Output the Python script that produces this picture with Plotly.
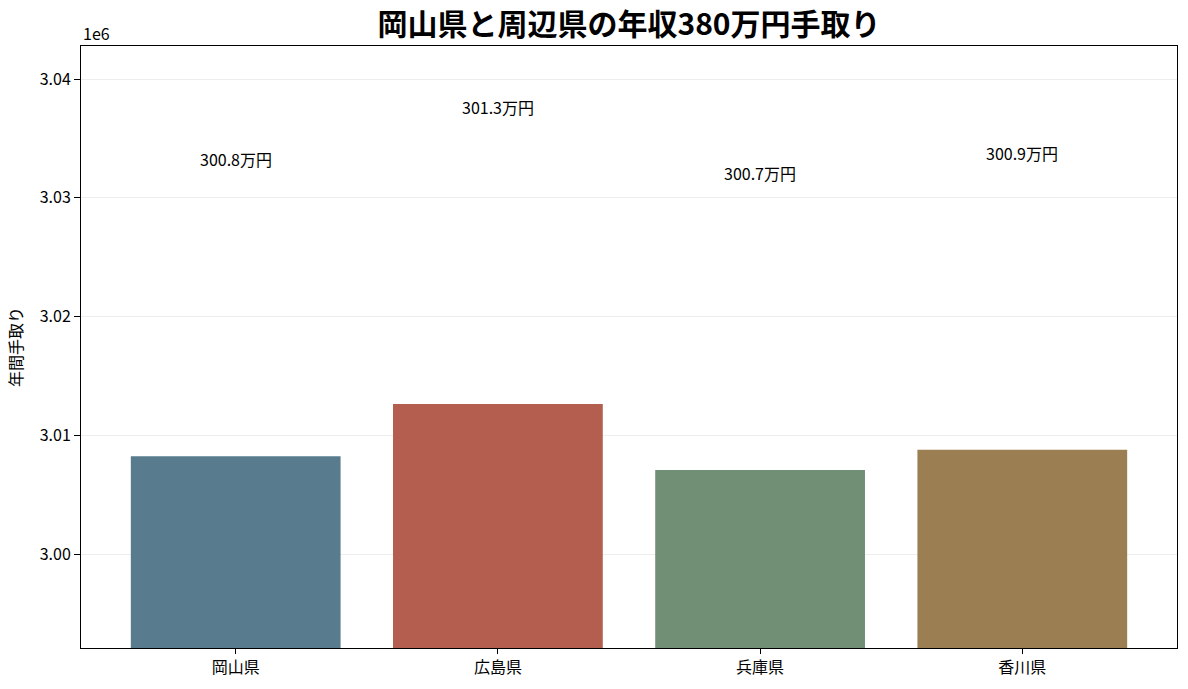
import plotly.graph_objects as go

prefectures = ["岡山県", "広島県", "兵庫県", "香川県"]
net_income = [3008250, 3012650, 3007080, 3008780]
bar_colors = ["#587c8e", "#b35e4e", "#708f74", "#9b7e52"]
y_ticks = [3000000, 3010000, 3020000, 3030000, 3040000]
y_tick_labels = ["3.00", "3.01", "3.02", "3.03", "3.04"]
label_offset = 25000

FONT = "Noto Sans CJK JP"

fig = go.Figure()
fig.add_trace(go.Bar(
    x=list(range(len(prefectures))),
    y=net_income,
    marker=dict(color=bar_colors, line=dict(width=0)),
    width=0.8,
    hoverinfo="skip",
))

for i, v in enumerate(net_income):
    fig.add_annotation(
        x=i, y=v + label_offset, text=f"{v/10000:.1f}万円",
        showarrow=False, font=dict(family=FONT, size=16, color="#000000"),
        xref="x", yref="y",
    )

fig.add_annotation(
    x=0, y=1.0, xref="paper", yref="paper", text="1e6",
    showarrow=False, xanchor="left", yanchor="bottom", yshift=-1,
    font=dict(family=FONT, size=16, color="#000000"),
)

fig.update_layout(
    width=1188, height=689,
    margin=dict(l=81, r=11, t=46, b=41),
    paper_bgcolor="white", plot_bgcolor="white",
    showlegend=False,
    title=dict(
        text="<b>岡山県と周辺県の年収380万円手取り</b>",
        x=0.5, xref="paper", xanchor="center", y=0.965, yanchor="middle",
        font=dict(family=FONT, size=30, color="#000000"),
    ),
    font=dict(family=FONT, size=16, color="#000000"),
)

fig.update_xaxes(
    range=[-0.59, 3.59],
    tickvals=list(range(len(prefectures))), ticktext=prefectures,
    ticks="outside", ticklen=5, tickcolor="black", tickwidth=1,
    showline=True, linecolor="black", linewidth=1, mirror=True,
    showgrid=False, zeroline=False,
    tickfont=dict(family=FONT, size=16, color="#000000"),
)
fig.update_yaxes(
    range=[2992100, 3042780],
    tickvals=y_ticks, ticktext=y_tick_labels,
    ticks="outside", ticklen=6, tickcolor="black", tickwidth=1,
    showline=True, linecolor="black", linewidth=1, mirror=True,
    showgrid=True, gridcolor="rgba(0,0,0,0.07)", gridwidth=1,
    zeroline=False, layer="above traces",
    title=dict(text="年間手取り", font=dict(family=FONT, size=16, color="#000000"), standoff=13),
    tickfont=dict(family=FONT, size=16, color="#000000"),
)

fig.write_html(
    "out.html",
    config={"displayModeBar": False},
    post_script="document.body.style.margin='0';document.body.style.overflow='hidden';",
)
